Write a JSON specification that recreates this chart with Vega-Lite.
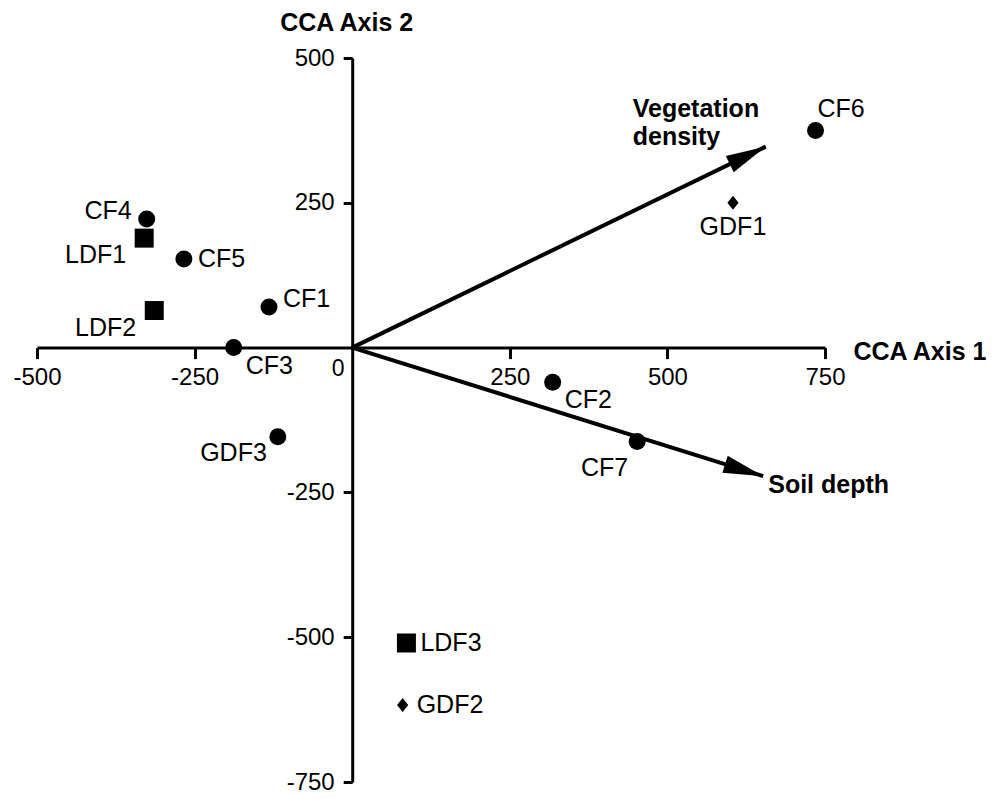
{
  "$schema": "https://vega.github.io/schema/vega-lite/v6.json",
  "width": 788,
  "height": 724,
  "autosize": {"type": "none"},
  "padding": {"left": 37, "top": 58, "right": 167, "bottom": 16},
  "background": "white",
  "config": {"view": {"stroke": null}, "font": "Liberation Sans"},
  "datasets": {
    "sites": [
      {"site": "CF1", "x": -132, "y": 70, "marker": "circle"},
      {"site": "CF2", "x": 318, "y": -60, "marker": "circle"},
      {"site": "CF3", "x": -188, "y": 0, "marker": "circle"},
      {"site": "CF4", "x": -326, "y": 222, "marker": "circle"},
      {"site": "CF5", "x": -267, "y": 153, "marker": "circle"},
      {"site": "CF6", "x": 735, "y": 375, "marker": "circle"},
      {"site": "CF7", "x": 452, "y": -162, "marker": "circle"},
      {"site": "GDF1", "x": 604, "y": 250, "marker": "diamond"},
      {"site": "GDF2", "x": 80, "y": -617, "marker": "diamond"},
      {"site": "GDF3", "x": -118, "y": -154, "marker": "circle"},
      {"site": "LDF1", "x": -330, "y": 189, "marker": "square"},
      {"site": "LDF2", "x": -314, "y": 64, "marker": "square"},
      {"site": "LDF3", "x": 86, "y": -510, "marker": "square"}
    ],
    "vectors": [
      {"variable": "Vegetation\ndensity", "x": 656, "y": 347},
      {"variable": "Soil depth", "x": 652, "y": -222}
    ],
    "origin": [
      {"label": "0", "x": 0, "y": 0}
    ]
  },
  "encoding": {
    "x": {
      "field": "x", "type": "quantitative",
      "scale": {"domain": [-500, 750], "nice": false, "zero": false},
      "axis": {
        "orient": "bottom", "offset": -434.4,
        "values": [-500, -250, 250, 500, 750],
        "labelExpr": "'' + datum.value",
        "grid": false, "domainColor": "black", "domainWidth": 3,
        "tickColor": "black", "tickWidth": 3, "tickSize": 11,
        "labelFontSize": 24, "labelColor": "black", "labelFont": "Liberation Sans",
        "labelPadding": 7, "labelFlush": false, "labelOverlap": false,
        "title": "CCA Axis 1", "titleFont": "Liberation Sans", "titleFontWeight": "bold",
        "titleFontSize": 25, "titleColor": "black", "titleAngle": 0,
        "titleAlign": "left", "titleBaseline": "middle", "titleX": 816, "titleY": 4
      }
    },
    "y": {
      "field": "y", "type": "quantitative",
      "scale": {"domain": [-750, 500], "nice": false, "zero": false},
      "axis": {
        "orient": "left", "offset": -315.2,
        "values": [500, 250, -250, -500, -750],
        "labelExpr": "'' + datum.value",
        "grid": false, "domainColor": "black", "domainWidth": 3,
        "tickColor": "black", "tickWidth": 3, "tickSize": 9,
        "labelFontSize": 24, "labelColor": "black", "labelFont": "Liberation Sans",
        "labelPadding": 9, "labelFlush": false, "labelOverlap": false,
        "title": "CCA Axis 2", "titleFont": "Liberation Sans", "titleFontWeight": "bold",
        "titleFontSize": 25, "titleColor": "black", "titleAngle": 0,
        "titleAlign": "center", "titleBaseline": "alphabetic", "titleX": -6, "titleY": -28
      }
    }
  },
  "layer": [
    {
      "data": {"name": "vectors"},
      "mark": {"type": "rule", "color": "black", "strokeWidth": 4},
      "encoding": {"x2": {"datum": 0}, "y2": {"datum": 0}}
    },
    {
      "data": {"name": "vectors"},
      "transform": [{"filter": "datum.variable === 'Vegetation\\ndensity'"}],
      "mark": {"type": "point", "shape": "M0,0L-0.45,2L0.45,2Z", "size": 1600, "filled": true, "color": "black", "opacity": 1, "angle": 64.1}
    },
    {
      "data": {"name": "vectors"},
      "transform": [{"filter": "datum.variable === 'Soil depth'"}],
      "mark": {"type": "point", "shape": "M0,0L-0.45,2L0.45,2Z", "size": 1600, "filled": true, "color": "black", "opacity": 1, "angle": 107.4}
    },
    {
      "data": {"name": "vectors"},
      "transform": [{"filter": "datum.variable === 'Vegetation\\ndensity'"}],
      "mark": {"type": "text", "align": "left", "baseline": "alphabetic", "dx": -133, "dy": -30, "fontSize": 25, "fontWeight": "bold", "lineBreak": "\n", "lineHeight": 28, "color": "black"},
      "encoding": {"text": {"field": "variable"}}
    },
    {
      "data": {"name": "vectors"},
      "transform": [{"filter": "datum.variable === 'Soil depth'"}],
      "mark": {"type": "text", "align": "left", "baseline": "middle", "dx": 5, "dy": 9, "fontSize": 25, "fontWeight": "bold", "color": "black"},
      "encoding": {"text": {"field": "variable"}}
    },
    {
      "data": {"name": "origin"},
      "mark": {"type": "text", "align": "center", "baseline": "middle", "dx": -14, "dy": 21, "fontSize": 23, "color": "black"},
      "encoding": {"text": {"field": "label"}}
    },
    {
      "data": {"name": "sites"},
      "transform": [{"filter": "datum.marker === 'circle'"}],
      "mark": {"type": "point", "shape": "circle", "size": 289, "filled": true, "color": "black", "opacity": 1}
    },
    {
      "data": {"name": "sites"},
      "transform": [{"filter": "datum.marker === 'square'"}],
      "mark": {"type": "point", "shape": "square", "size": 361, "filled": true, "color": "black", "opacity": 1}
    },
    {
      "data": {"name": "sites"},
      "transform": [{"filter": "datum.marker === 'diamond'"}],
      "mark": {"type": "point", "shape": "M0,-1L0.8,0L0,1L-0.8,0Z", "size": 196, "filled": true, "color": "black", "opacity": 1}
    },
    {
      "data": {"name": "sites"},
      "transform": [{"filter": {"field": "site", "oneOf": ["CF5", "LDF3", "GDF2"]}}],
      "mark": {"type": "text", "align": "left", "baseline": "middle", "dx": 14, "dy": 0, "fontSize": 25, "color": "black"},
      "encoding": {"text": {"field": "site"}}
    },
    {
      "data": {"name": "sites"},
      "transform": [{"filter": {"field": "site", "oneOf": ["CF1"]}}],
      "mark": {"type": "text", "align": "left", "baseline": "middle", "dx": 14, "dy": -8, "fontSize": 25, "color": "black"},
      "encoding": {"text": {"field": "site"}}
    },
    {
      "data": {"name": "sites"},
      "transform": [{"filter": {"field": "site", "oneOf": ["CF3", "CF2"]}}],
      "mark": {"type": "text", "align": "left", "baseline": "middle", "dx": 12, "dy": 18, "fontSize": 25, "color": "black"},
      "encoding": {"text": {"field": "site"}}
    },
    {
      "data": {"name": "sites"},
      "transform": [{"filter": {"field": "site", "oneOf": ["LDF1", "LDF2"]}}],
      "mark": {"type": "text", "align": "right", "baseline": "middle", "dx": -18, "dy": 17, "fontSize": 25, "color": "black"},
      "encoding": {"text": {"field": "site"}}
    },
    {
      "data": {"name": "sites"},
      "transform": [{"filter": {"field": "site", "oneOf": ["GDF3"]}}],
      "mark": {"type": "text", "align": "right", "baseline": "middle", "dx": -11, "dy": 16, "fontSize": 25, "color": "black"},
      "encoding": {"text": {"field": "site"}}
    },
    {
      "data": {"name": "sites"},
      "transform": [{"filter": {"field": "site", "oneOf": ["CF4"]}}],
      "mark": {"type": "text", "align": "right", "baseline": "middle", "dx": -15, "dy": -8, "fontSize": 25, "color": "black"},
      "encoding": {"text": {"field": "site"}}
    },
    {
      "data": {"name": "sites"},
      "transform": [{"filter": {"field": "site", "oneOf": ["GDF1"]}}],
      "mark": {"type": "text", "align": "center", "baseline": "middle", "dx": 0, "dy": 24, "fontSize": 25, "color": "black"},
      "encoding": {"text": {"field": "site"}}
    },
    {
      "data": {"name": "sites"},
      "transform": [{"filter": {"field": "site", "oneOf": ["CF6"]}}],
      "mark": {"type": "text", "align": "left", "baseline": "middle", "dx": 2, "dy": -21, "fontSize": 25, "color": "black"},
      "encoding": {"text": {"field": "site"}}
    },
    {
      "data": {"name": "sites"},
      "transform": [{"filter": {"field": "site", "oneOf": ["CF7"]}}],
      "mark": {"type": "text", "align": "right", "baseline": "middle", "dx": -9, "dy": 27, "fontSize": 25, "color": "black"},
      "encoding": {"text": {"field": "site"}}
    }
  ]
}
